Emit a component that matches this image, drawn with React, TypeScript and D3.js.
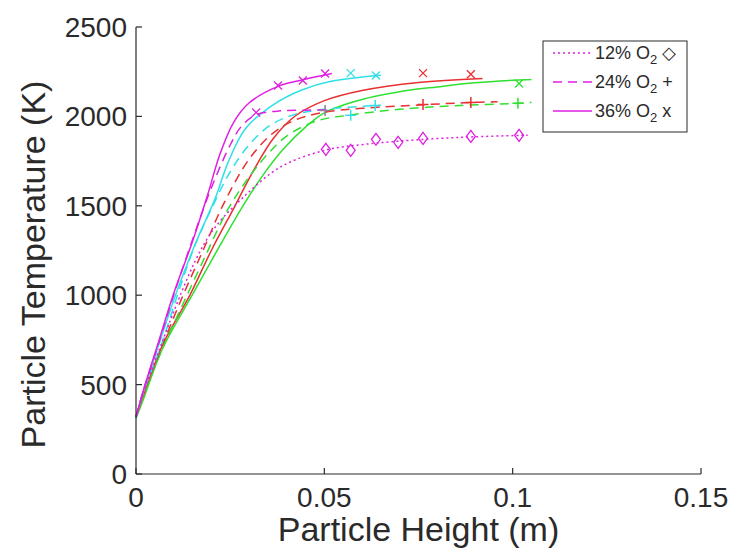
import React from "react";
import * as d3 from "d3";

// curve points: [height (m), temperature (K)]
const mag36 = [[0, 320], [0.002, 470], [0.006, 740], [0.01, 1010], [0.015, 1300], [0.019, 1560], [0.0223, 1790], [0.026, 1970], [0.03, 2075], [0.0377, 2168], [0.0443, 2205], [0.052, 2240]];
const cyan36 = [[0, 320], [0.002, 460], [0.006, 720], [0.011, 1030], [0.016, 1300], [0.021, 1540], [0.0244, 1740], [0.029, 1930], [0.0364, 2065], [0.044, 2148], [0.0515, 2195], [0.065, 2230]];
const red36 = [[0, 320], [0.002, 440], [0.007, 720], [0.0143, 1000], [0.02, 1250], [0.0263, 1500], [0.031, 1690], [0.0364, 1875], [0.042, 1998], [0.05, 2088], [0.06, 2145], [0.075, 2190], [0.092, 2212]];
const green36 = [[0, 310], [0.002, 420], [0.007, 700], [0.0149, 1000], [0.021, 1230], [0.0284, 1500], [0.034, 1680], [0.039, 1815], [0.045, 1940], [0.05, 2020], [0.06, 2095], [0.07, 2138], [0.08, 2165], [0.09, 2188], [0.105, 2207]];

const mag24 = [[0, 320], [0.002, 470], [0.006, 730], [0.01, 1000], [0.015, 1310], [0.02, 1600], [0.025, 1840], [0.028, 1945], [0.032, 2010], [0.038, 2030], [0.045, 2035], [0.052, 2035]];
const cyan24 = [[0, 320], [0.002, 460], [0.007, 740], [0.011, 1000], [0.0155, 1270], [0.0204, 1500], [0.025, 1690], [0.03, 1840], [0.0356, 1950], [0.042, 2010], [0.05, 2040], [0.065, 2062]];
const red24 = [[0, 320], [0.002, 450], [0.007, 720], [0.0125, 1000], [0.018, 1260], [0.023, 1500], [0.03, 1760], [0.036, 1900], [0.0417, 1975], [0.049, 2020], [0.06, 2045], [0.0762, 2065], [0.089, 2078], [0.096, 2082]];
const green24 = [[0, 315], [0.002, 440], [0.007, 700], [0.012, 930], [0.018, 1200], [0.0244, 1480], [0.03, 1660], [0.035, 1790], [0.04, 1890], [0.048, 1975], [0.057, 2008], [0.07, 2040], [0.085, 2060], [0.1014, 2073], [0.105, 2078]];

const mag12 = [[0, 320], [0.002, 460], [0.007, 740], [0.011, 960], [0.0157, 1190], [0.0204, 1363], [0.0276, 1530], [0.0382, 1715], [0.0504, 1812], [0.06, 1842], [0.07, 1862], [0.08, 1876], [0.09, 1886], [0.104, 1895]];

// experimental points
const crossPts = [[0.0319, 2022, "m"], [0.0377, 2173, "m"], [0.0443, 2201, "m"], [0.0502, 2240, "m"], [0.057, 2242, "c"], [0.0637, 2229, "c"], [0.0762, 2242, "r"], [0.0889, 2236, "r"], [0.1017, 2184, "g"]];
const plusPts = [[0.0502, 2033, "k"], [0.057, 2006, "c"], [0.0635, 2061, "c"], [0.0762, 2067, "r"], [0.0889, 2078, "r"], [0.1014, 2073, "g"]];
const diamondPts = [[0.0504, 1816], [0.057, 1810], [0.0637, 1872], [0.0696, 1855], [0.0762, 1877], [0.0889, 1888], [0.1017, 1894]];

const xTicks = [0, 0.05, 0.1, 0.15];
const xTickLabels = ["0", "0.05", "0.1", "0.15"];
const yTicks = [0, 500, 1000, 1500, 2000, 2500];
const legendLabels = ["12% O", "24% O", "36% O"];
const legendMarks = ["\u25C7", "+", "x"];

const colors: Record<string, string> = {
  m: "#e020e0",
  c: "#30e0e8",
  r: "#e83030",
  g: "#30e030",
  k: "#9a7a9a",
};

const left = 136, right = 701, top = 27, bottom = 474;
const font = "'Liberation Sans', Arial, Helvetica, sans-serif";
const axisColor = "#2a2a2a";

export default function App() {
  const x = d3.scaleLinear().domain([0, 0.15]).range([left, right]);
  const y = d3.scaleLinear().domain([0, 2500]).range([bottom, top]);
  const line = d3
    .line<number[]>()
    .x((d) => x(d[0]))
    .y((d) => y(d[1]))
    .curve(d3.curveCatmullRom.alpha(0.5));

  const curves = [
    { d: green36, c: "g", dash: null },
    { d: red36, c: "r", dash: null },
    { d: cyan36, c: "c", dash: null },
    { d: green24, c: "g", dash: "9 6" },
    { d: red24, c: "r", dash: "9 6" },
    { d: cyan24, c: "c", dash: "9 6" },
    { d: mag12, c: "m", dash: "2 3" },
    { d: mag24, c: "m", dash: "9 6" },
    { d: mag36, c: "m", dash: null },
  ];

  return (
    <svg width={739} height={560} style={{ position: "absolute", left: 0, top: 0, background: "#fff" }}>
      {curves.map((cv, i) => (
        <path
          key={i}
          d={line(cv.d as number[][]) || ""}
          fill="none"
          stroke={colors[cv.c]}
          strokeWidth={1.5}
          strokeDasharray={cv.dash || undefined}
        />
      ))}

      {diamondPts.map((p, i) => {
        const cx = x(p[0]), cy = y(p[1]);
        return (
          <path key={"d" + i} d={`M${cx},${cy - 6}L${cx + 4.5},${cy}L${cx},${cy + 6}L${cx - 4.5},${cy}Z`} fill="none" stroke={colors.m} strokeWidth={1.3} />
        );
      })}
      {plusPts.map((p, i) => {
        const cx = x(p[0] as number), cy = y(p[1] as number);
        return (
          <path key={"p" + i} d={`M${cx - 5.5},${cy}H${cx + 5.5}M${cx},${cy - 5.5}V${cy + 5.5}`} stroke={colors[p[2] as string]} strokeWidth={1.5} />
        );
      })}
      {crossPts.map((p, i) => {
        const cx = x(p[0] as number), cy = y(p[1] as number);
        return (
          <path key={"x" + i} d={`M${cx - 4},${cy - 4}L${cx + 4},${cy + 4}M${cx - 4},${cy + 4}L${cx + 4},${cy - 4}`} stroke={colors[p[2] as string]} strokeWidth={1.3} />
        );
      })}

      {/* axes */}
      <g stroke={axisColor} strokeWidth={1.2}>
        <line x1={left} x2={left} y1={top} y2={bottom} />
        <line x1={left} x2={right} y1={bottom} y2={bottom} />
        {yTicks.map((t) => (
          <line key={"yt" + t} x1={left} x2={left + 6} y1={y(t)} y2={y(t)} />
        ))}
        {xTicks.map((t) => (
          <line key={"xt" + t} x1={x(t)} x2={x(t)} y1={bottom} y2={bottom - 6} />
        ))}
      </g>
      <g fontFamily={font} fontSize={28} fill={axisColor}>
        {yTicks.map((t) => (
          <text key={"yl" + t} x={left - 9} y={y(t) + 10} textAnchor="end">
            {t}
          </text>
        ))}
        {xTicks.map((t, i) => (
          <text key={"xl" + t} x={x(t)} y={bottom + 33} textAnchor="middle">
            {xTickLabels[i]}
          </text>
        ))}
      </g>
      <text x={(left + right) / 2} y={bottom + 67} textAnchor="middle" fontFamily={font} fontSize={34} fill={axisColor}>
        Particle Height (m)
      </text>
      <text transform={`translate(45,${(top + bottom) / 2 + 14}) rotate(-90)`} textAnchor="middle" fontFamily={font} fontSize={34} fill={axisColor}>
        Particle Temperature (K)
      </text>

      {/* legend */}
      <g>
        <rect x={543} y={41} width={144} height={91} fill="#fff" stroke={axisColor} strokeWidth={1} />
        {legendLabels.map((lab, i) => {
          const ly = 53 + i * 29;
          const dash = i === 0 ? "2 3" : i === 1 ? "9 6" : undefined;
          return (
            <g key={lab}>
              <line x1={553} x2={592} y1={ly} y2={ly} stroke={colors.m} strokeWidth={1.3} strokeDasharray={dash} />
              <text x={595} y={ly + 6} fontFamily={font} fontSize={18} fill={axisColor}>
                {lab}
                <tspan fontSize={13} dy={5}>2</tspan>
                <tspan dy={-5}> {legendMarks[i]}</tspan>
              </text>
            </g>
          );
        })}
      </g>
    </svg>
  );
}
